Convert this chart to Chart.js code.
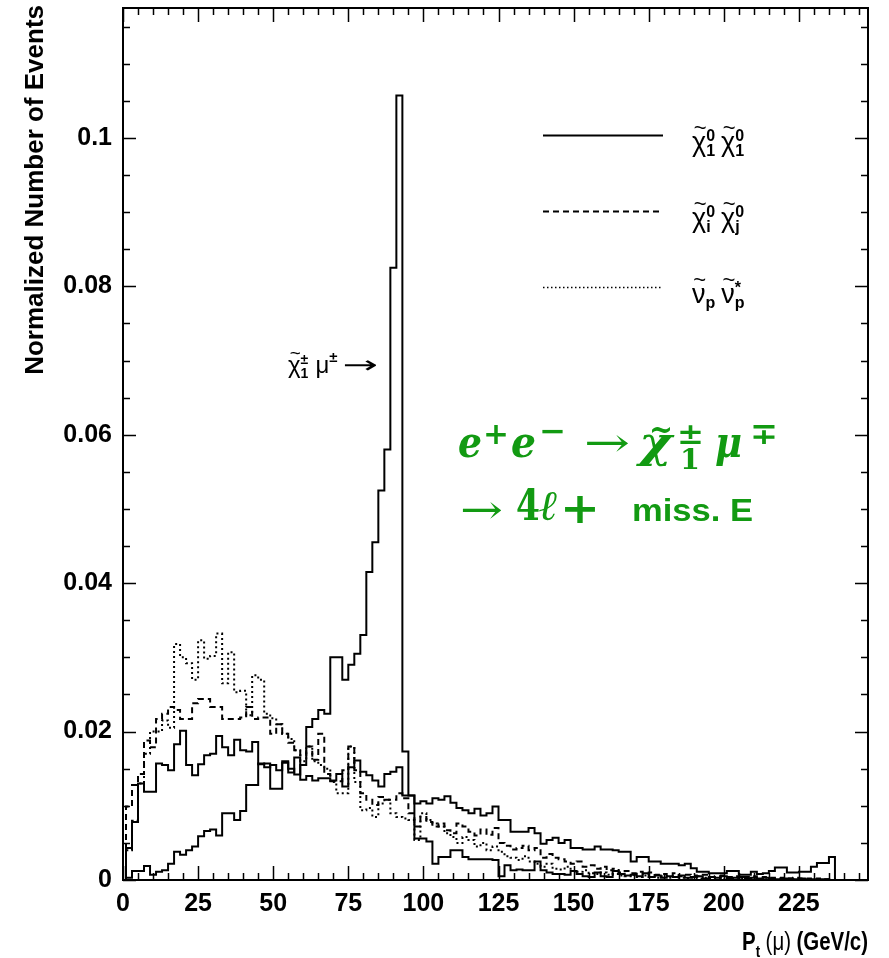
<!DOCTYPE html>
<html>
<head>
<meta charset="utf-8">
<script src="https://cdn.jsdelivr.net/npm/chart.js@4/dist/chart.umd.min.js"></script>
<style>
  html, body { margin: 0; padding: 0; background: #fff; }
  #wrap { width: 889px; height: 958px; }
</style>
</head>
<body>
<div id="wrap"><canvas id="c" width="889" height="958"></canvas></div>
<script>
// Muon transverse momentum spectra, normalized, 2 GeV/c bins starting at 1 GeV/c
const BIN_WIDTH = 2;
const FIRST_EDGE = 1;

// chi1^0 chi1^0 background (solid)
const chi10chi10 = [
  0.0043, 0.0078, 0.0130, 0.0119, 0.0119, 0.0157, 0.0155, 0.0148, 0.0183, 0.0201,
  0.0155, 0.0141, 0.0156, 0.0168, 0.0170, 0.0194, 0.0179, 0.0168, 0.0189, 0.0175,
  0.0173, 0.0186, 0.0156, 0.0157, 0.0123, 0.0123, 0.0158, 0.0145, 0.0165, 0.0135,
  0.0140, 0.0134, 0.0137, 0.0137, 0.0134, 0.0143, 0.0126, 0.0152, 0.0161, 0.0146,
  0.0141, 0.0134, 0.0126, 0.0143, 0.0146, 0.0152, 0.0114, 0.0114, 0.0103, 0.0106,
  0.0103, 0.0110, 0.0108, 0.0113, 0.0104, 0.0097, 0.0094, 0.0090, 0.0096, 0.0087,
  0.0090, 0.0099, 0.0081, 0.0081, 0.0065, 0.0065, 0.0065, 0.0070, 0.0063, 0.0049,
  0.0054, 0.0057, 0.0050, 0.0054, 0.0043, 0.0043, 0.0041, 0.0041, 0.0045, 0.0041,
  0.0041, 0.0040, 0.0038, 0.0038, 0.0025, 0.0031, 0.0031, 0.0025, 0.0025, 0.0022,
  0.0022, 0.0022, 0.0020, 0.0022, 0.0016, 0.0011, 0.0011, 0.0009, 0.0009, 0.0009,
  0.0012, 0.0012, 0.0007, 0.0007, 0.0011, 0.0008, 0.0009, 0.0012, 0.0017, 0.0017,
  0.0010, 0.0010, 0.0011, 0.0011, 0.0018, 0.0023, 0.0023, 0.0031
];

// chi1^+- mu^-+ signal (solid, monochromatic peak)
const chargMu = [
  0.0003, 0.0012, 0.0012, 0.0019, 0.0007, 0.0011, 0.0013, 0.0022, 0.0038, 0.0034,
  0.0040, 0.0045, 0.0059, 0.0066, 0.0068, 0.0060, 0.0090, 0.0090, 0.0081, 0.0093,
  0.0128, 0.0128, 0.0157, 0.0152, 0.0155, 0.0148, 0.0160, 0.0150, 0.0142, 0.0155,
  0.0206, 0.0217, 0.0229, 0.0224, 0.0300, 0.0300, 0.0270, 0.0290, 0.0305, 0.0330,
  0.0415, 0.0455, 0.0525, 0.0580, 0.0825, 0.1057, 0.0173, 0.0114, 0.0056, 0.0056,
  0.0052, 0.0022, 0.0031, 0.0031, 0.0040, 0.0040, 0.0031, 0.0028, 0.0028, 0.0028,
  0.0028, 0.0027, 0.0005, 0.0020, 0.0013, 0.0014, 0.0013, 0.0013, 0.0025, 0.0013,
  0.0010, 0.0008, 0.0008, 0.0007, 0.0012, 0.0008, 0.0005, 0.0004, 0.0010, 0.0005,
  0.0004, 0.0012, 0.0008, 0.0006, 0.0007, 0.0005, 0.0009, 0.0004, 0.0006, 0.0003,
  0.0005, 0.0004, 0.0006, 0.0003, 0.0004, 0.0005, 0.0002, 0.0004, 0.0003, 0.0005,
  0.0002, 0.0003, 0.0004, 0.0002, 0.0003, 0.0002, 0.0003, 0.0002, 0.0001, 0.0002,
  0.0002, 0.0001, 0.0002, 0.0001, 0.0001, 0.0001, 0.0001, 0.0000
];

// chi_i^0 chi_j^0 background (dashed)
const chiIchiJ = [
  0.0099, 0.0128, 0.0143, 0.0188, 0.0179, 0.0217, 0.0224, 0.0233, 0.0229, 0.0217,
  0.0217, 0.0238, 0.0244, 0.0244, 0.0233, 0.0233, 0.0217, 0.0217, 0.0217, 0.0219,
  0.0233, 0.0217, 0.0219, 0.0219, 0.0197, 0.0210, 0.0197, 0.0185, 0.0175, 0.0168,
  0.0180, 0.0162, 0.0197, 0.0143, 0.0133, 0.0133, 0.0148, 0.0180, 0.0148, 0.0117,
  0.0108, 0.0101, 0.0112, 0.0108, 0.0108, 0.0117, 0.0110, 0.0090, 0.0072, 0.0085,
  0.0078, 0.0072, 0.0076, 0.0067, 0.0063, 0.0076, 0.0072, 0.0065, 0.0060, 0.0068,
  0.0061, 0.0070, 0.0050, 0.0046, 0.0041, 0.0043, 0.0046, 0.0040, 0.0043, 0.0030,
  0.0035, 0.0030, 0.0028, 0.0025, 0.0022, 0.0025, 0.0018, 0.0020, 0.0015, 0.0018,
  0.0013, 0.0015, 0.0010, 0.0012, 0.0009, 0.0011, 0.0008, 0.0010, 0.0007, 0.0008,
  0.0006, 0.0009, 0.0005, 0.0007, 0.0006, 0.0005, 0.0007, 0.0004, 0.0005, 0.0006,
  0.0004, 0.0005, 0.0003, 0.0004, 0.0005, 0.0003, 0.0004, 0.0003, 0.0002, 0.0003,
  0.0002, 0.0003, 0.0002, 0.0002, 0.0001, 0.0002, 0.0001, 0.0001
];

// sneutrino pair background (dotted)
const snuSnu = [
  0.0040, 0.0080, 0.0130, 0.0170, 0.0200, 0.0200, 0.0215, 0.0205, 0.0318, 0.0300,
  0.0292, 0.0270, 0.0323, 0.0298, 0.0302, 0.0332, 0.0265, 0.0307, 0.0253, 0.0255,
  0.0222, 0.0276, 0.0270, 0.0224, 0.0218, 0.0210, 0.0197, 0.0190, 0.0175, 0.0160,
  0.0180, 0.0160, 0.0155, 0.0150, 0.0132, 0.0117, 0.0117, 0.0180, 0.0132, 0.0094,
  0.0097, 0.0085, 0.0103, 0.0108, 0.0090, 0.0085, 0.0083, 0.0081, 0.0054, 0.0090,
  0.0081, 0.0076, 0.0072, 0.0063, 0.0058, 0.0050, 0.0058, 0.0054, 0.0045, 0.0050,
  0.0040, 0.0045, 0.0038, 0.0032, 0.0030, 0.0027, 0.0032, 0.0025, 0.0022, 0.0018,
  0.0022, 0.0015, 0.0014, 0.0018, 0.0012, 0.0011, 0.0013, 0.0009, 0.0008, 0.0010,
  0.0007, 0.0008, 0.0006, 0.0005, 0.0007, 0.0004, 0.0006, 0.0004, 0.0003, 0.0005,
  0.0003, 0.0004, 0.0003, 0.0002, 0.0003, 0.0002, 0.0003, 0.0002, 0.0002, 0.0001,
  0.0002, 0.0001, 0.0002, 0.0001, 0.0001, 0.0001, 0.0001, 0.0001, 0.0000, 0.0001,
  0.0000, 0.0001, 0.0000, 0.0000, 0.0000, 0.0000, 0.0000, 0.0000
];

// Axis ranges and labelled ticks
const X_MIN = 0, X_MAX = 248;
const Y_MIN = 0, Y_MAX = 0.1175;
const xTickValues = [0, 25, 50, 75, 100, 125, 150, 175, 200, 225];
const yTickValues = [0, 0.02, 0.04, 0.06, 0.08, 0.1];
const xMinorStep = 5;
const yMinorStep = 0.005;

const GREEN = '#129a12';
const SANS = '"Liberation Sans", Arial, Helvetica, sans-serif';
const SERIF = '"DejaVu Serif", serif';

// Turn a list of bin contents into step points (value holds across each bin)
function histPoints(vals) {
  const pts = [{ x: FIRST_EDGE, y: 0 }];
  vals.forEach((v, i) => pts.push({ x: FIRST_EDGE + i * BIN_WIDTH, y: v }));
  pts.push({ x: FIRST_EDGE + vals.length * BIN_WIDTH, y: 0 });
  return pts;
}

function histDataset(label, vals, dash, width) {
  return {
    label,
    data: histPoints(vals),
    borderColor: '#000',
    borderWidth: width,
    borderDash: dash,
    borderCapStyle: 'butt',
    stepped: 'before',
    pointRadius: 0,
    fill: false,
    tension: 0
  };
}

// Draw one piece of text, optionally squeezed/stretched to a given width
function place(ctx, t, font, x, y, w) {
  ctx.font = font;
  const m = ctx.measureText(t).width;
  ctx.save();
  ctx.translate(x, y);
  if (w) ctx.scale(w / m, 1);
  ctx.fillText(t, 0, 0);
  ctx.restore();
  return x + (w || m);
}

// Particle symbol with tilde and optional super/subscripts
function symbol(ctx, x, y, base, sup, sub, size) {
  ctx.fillStyle = '#000';
  ctx.textBaseline = 'alphabetic';
  ctx.textAlign = 'left';
  ctx.font = `${size}px ${SANS}`;
  ctx.fillText(base, x, y);
  const w = ctx.measureText(base).width;
  ctx.font = `${Math.round(size * 0.8)}px ${SANS}`;
  const tw = ctx.measureText('~').width;
  ctx.fillText('~', x + (w - tw) / 2 + 1, y - size * 0.6);
  ctx.font = `bold ${Math.round(size * 0.6)}px ${SANS}`;
  let ww = 0;
  if (sup) { ctx.fillText(sup, x + w, y - size * 0.36); ww = Math.max(ww, ctx.measureText(sup).width); }
  if (sub) { ctx.fillText(sub, x + w, y + size * 0.2); ww = Math.max(ww, ctx.measureText(sub).width); }
  return x + w + ww;
}

const overlay = {
  id: 'overlay',
  afterDatasetsDraw(chart) {
    const { ctx, chartArea: a, scales } = chart;
    const xs = scales.x, ys = scales.y;
    ctx.save();

    // inward tick marks on all four sides
    ctx.strokeStyle = '#000';
    ctx.lineWidth = 1.5;
    ctx.beginPath();
    for (let v = X_MIN; v <= X_MAX + 1e-9; v += xMinorStep) {
      const px = Math.round(xs.getPixelForValue(v)) + 0.5;
      const major = Math.abs(v % 25) < 1e-9;
      const len = major ? 14 : 7;
      ctx.moveTo(px, a.bottom); ctx.lineTo(px, a.bottom - len);
      ctx.moveTo(px, a.top); ctx.lineTo(px, a.top + len);
    }
    for (let k = 0; k * yMinorStep <= Y_MAX + 1e-9; k++) {
      const v = k * yMinorStep;
      const py = Math.round(ys.getPixelForValue(v)) + 0.5;
      const major = k % 4 === 0;
      const len = major ? 13 : 7;
      ctx.moveTo(a.left, py); ctx.lineTo(a.left + len, py);
      ctx.moveTo(a.right, py); ctx.lineTo(a.right - len, py);
    }
    ctx.stroke();

    // frame
    ctx.lineWidth = 2;
    ctx.strokeRect(a.left, a.top, a.right - a.left, a.bottom - a.top);

    // legend
    const legendRows = [
      { y: 135, dash: [], w: 2, base: 'χ', sup: '0', sub: '1', base2: 'χ', sup2: '0', sub2: '1' },
      { y: 211, dash: [6, 4], w: 2, base: 'χ', sup: '0', sub: 'i', base2: 'χ', sup2: '0', sub2: 'j' },
      { y: 287, dash: [1.5, 2.5], w: 1.5, base: 'ν', sup: '', sub: 'p', base2: 'ν', sup2: '*', sub2: 'p' }
    ];
    for (const r of legendRows) {
      ctx.setLineDash(r.dash);
      ctx.lineWidth = r.w;
      ctx.beginPath();
      ctx.moveTo(543, r.y + 0.5); ctx.lineTo(663, r.y + 0.5);
      ctx.stroke();
      ctx.setLineDash([]);
      const x = symbol(ctx, 692, r.y + 16, r.base, r.sup, r.sub, 27);
      symbol(ctx, x + 6, r.y + 16, r.base2, r.sup2, r.sub2, 27);
    }

    // signal peak annotation
    let ax = symbol(ctx, 288, 373, 'χ', '±', '1', 24);
    ctx.font = `24px ${SANS}`;
    ctx.fillText('μ', ax + 7, 373);
    ax += 7 + ctx.measureText('μ').width;
    ctx.font = `bold 15px ${SANS}`;
    ctx.fillText('±', ax, 362);
    ax += ctx.measureText('±').width + 5;
    place(ctx, '→', `24px "DejaVu Sans", sans-serif`, ax, 373, 378 - ax);

    // process label
    ctx.fillStyle = GREEN;
    const bi = `italic bold 42px ${SERIF}`;
    const sm = `bold 30px ${SERIF}`;
    place(ctx, 'e', bi, 458, 457, 24);
    place(ctx, '+', sm, 483, 444, 26);
    place(ctx, 'e', bi, 511, 457, 25);
    place(ctx, '−', sm, 539, 441, 27);
    place(ctx, '→', `40px ${SERIF}`, 584, 456, 46);
    place(ctx, 'χ', bi, 639, 457, 33);
    place(ctx, '~', `bold 34px ${SERIF}`, 649, 441, 24);
    place(ctx, '±', sm, 677, 444, 27);
    place(ctx, '1', `bold 28px ${SERIF}`, 680, 469, 20);
    place(ctx, 'μ', bi, 715, 457, 27);
    place(ctx, '∓', sm, 750, 444, 28);

    place(ctx, '→', `40px ${SERIF}`, 460, 523, 43);
    place(ctx, '4', `bold 42px ${SERIF}`, 516, 520, 24);
    place(ctx, 'ℓ', bi, 539, 520, 19);
    place(ctx, '+', `bold 42px ${SERIF}`, 560, 523, 40);
    place(ctx, 'miss. E', `bold 31px ${SANS}`, 632, 521, 121);

    // x axis title, fitted between 742 and 868
    ctx.fillStyle = '#000';
    const parts = [
      { t: 'P', f: `bold 26px ${SANS}`, dy: 0, gap: 0 },
      { t: 't', f: `bold 17px ${SANS}`, dy: 7, gap: 7 },
      { t: '(μ)', f: `26px ${SANS}`, dy: 0, gap: 7 },
      { t: '(GeV/c)', f: `bold 26px ${SANS}`, dy: 0, gap: 0 }
    ];
    let total = 0;
    for (const p of parts) { ctx.font = p.f; total += ctx.measureText(p.t).width + p.gap; }
    ctx.save();
    ctx.translate(742, 950);
    ctx.scale(126 / total, 1);
    let px = 0;
    for (const p of parts) {
      ctx.font = p.f;
      ctx.fillText(p.t, px, p.dy);
      px += ctx.measureText(p.t).width + p.gap;
    }
    ctx.restore();

    // y axis title, right-aligned at the top
    ctx.save();
    ctx.translate(43, 5);
    ctx.rotate(-Math.PI / 2);
    ctx.textAlign = 'right';
    ctx.font = `bold 26px ${SANS}`;
    ctx.fillText('Normalized Number of Events', 0, 0);
    ctx.restore();

    ctx.restore();
  }
};

new Chart(document.getElementById('c'), {
  type: 'line',
  data: {
    datasets: [
      histDataset('χ̃⁰₁ χ̃⁰₁', chi10chi10, [], 2),
      histDataset('χ̃±₁ μ∓', chargMu, [], 2),
      histDataset('χ̃⁰ᵢ χ̃⁰ⱼ', chiIchiJ, [6, 4], 2),
      histDataset('ν̃ₚ ν̃*ₚ', snuSnu, [2, 3], 2)
    ]
  },
  options: {
    responsive: false,
    animation: false,
    devicePixelRatio: 1,
    layout: { padding: { top: 8, right: 21, left: 0, bottom: 0 } },
    plugins: { legend: { display: false }, tooltip: { enabled: false } },
    scales: {
      x: {
        type: 'linear',
        min: X_MIN, max: X_MAX,
        grid: { display: false, drawTicks: false },
        border: { display: false },
        afterBuildTicks(s) { s.ticks = xTickValues.map(v => ({ value: v })); },
        afterFit(s) { s.height = 78; s.paddingLeft = 0; s.paddingRight = 0; },
        ticks: {
          padding: 9,
          maxRotation: 0,
          autoSkip: false,
          color: '#000',
          font: { family: SANS, size: 25, weight: 'bold' },
          callback: v => String(v)
        }
      },
      y: {
        type: 'linear',
        min: Y_MIN, max: Y_MAX,
        grid: { display: false, drawTicks: false },
        border: { display: false },
        afterBuildTicks(s) { s.ticks = yTickValues.map(v => ({ value: v })); },
        afterFit(s) { s.width = 123; s.paddingTop = 0; s.paddingBottom = 0; },
        ticks: {
          padding: 11,
          autoSkip: false,
          color: '#000',
          font: { family: SANS, size: 25, weight: 'bold' },
          callback: v => (v === 0 ? '0' : String(+v.toFixed(3)))
        }
      }
    }
  },
  plugins: [overlay]
});
</script>
</body>
</html>
